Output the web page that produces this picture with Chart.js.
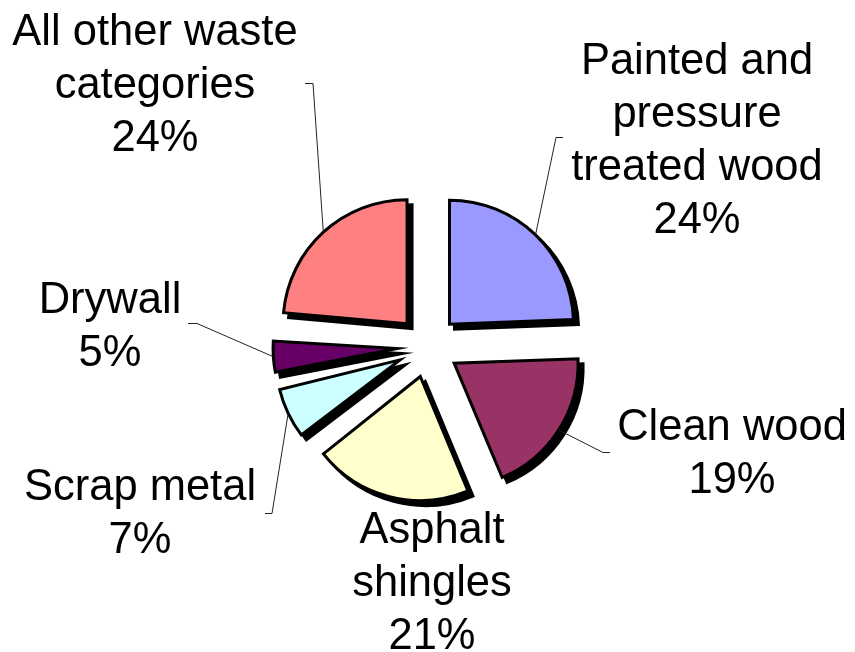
<!DOCTYPE html>
<html lang="en">
<head>
  <meta charset="UTF-8">
  <title>Waste composition</title>
  <script src="https://cdn.jsdelivr.net/npm/chart.js"></script>
  <style>
    html, body { margin: 0; padding: 0; background: #fff; }
    canvas { display: block; }
  </style>
</head>
<body>
  <canvas id="pie" width="855" height="652"></canvas>
  <script>
    const categories = ['Painted and pressure treated wood', 'Clean wood', 'Asphalt shingles', 'Scrap metal', 'Drywall', 'All other waste categories'];
    const shares = [24.4, 19.3, 20.6, 7.2, 4.9, 23.6];
    const colours = ['#9999ff', '#993366', '#ffffcc', '#ccffff', '#660066', '#ff8080'];

    // how each category name is wrapped on the picture
    const labelLines = [
      ['Painted and', 'pressure', 'treated wood'],
      ['Clean wood'],
      ['Asphalt', 'shingles'],
      ['Scrap metal'],
      ['Drywall'],
      ['All other waste', 'categories']
    ];
    // label placement: centre x, first baseline, leader elbow and tick length
    const labelPos = [
      { x: 697, y: 74, elbow: [556, 137], tick: 7 },
      { x: 732, y: 440, elbow: [603, 452], tick: 7 },
      { x: 432, y: 543, elbow: null },
      { x: 140, y: 500, elbow: [272, 513], tick: -7 },
      { x: 110, y: 313, elbow: [197, 323], tick: -9 },
      { x: 155, y: 45, elbow: [313, 83], tick: -8 }
    ];
    const lineH = 53;
    const total = shares.reduce((a, b) => a + b, 0);

    // chart.js grows small exploded slices; keep every slice at the same radius
    const sameRadius = {
      id: 'sameRadius',
      afterDatasetUpdate(chart, args) {
        args.meta.data.forEach(arc => {
          const push = ((arc.options && arc.options.offset) || 0) / 4;
          const fix = 1 - Math.sin(Math.min(Math.PI, arc.circumference));
          arc.outerRadius -= push * fix;
        });
      }
    };

    // black drop shadow under each slice, drawn with the arc element itself
    const dropShadow = {
      id: 'dropShadow',
      beforeDatasetsDraw(chart) {
        const ctx = chart.ctx;
        ctx.save();
        ctx.translate(5, 5);
        chart.getDatasetMeta(0).data.forEach(arc => {
          const copy = Object.assign(Object.create(Object.getPrototypeOf(arc)), arc);
          copy.options = Object.assign({}, arc.options, { backgroundColor: '#000', borderColor: '#000' });
          copy.draw(ctx);
        });
        ctx.restore();
      }
    };

    const outsideLabels = {
      id: 'outsideLabels',
      afterDraw(chart) {
        const ctx = chart.ctx;
        const meta = chart.getDatasetMeta(0);
        const r = meta.controller.outerRadius;
        ctx.save();
        ctx.strokeStyle = '#222';
        ctx.lineWidth = 1;
        meta.data.forEach((arc, i) => {
          const pos = labelPos[i];
          if (!pos.elbow) return;
          const mid = (arc.startAngle + arc.endAngle) / 2;
          const push = arc.options.offset / 4;
          const sx = arc.x + Math.cos(mid) * (push + r);
          const sy = arc.y + Math.sin(mid) * (push + r);
          ctx.beginPath();
          ctx.moveTo(sx, sy);
          ctx.lineTo(pos.elbow[0], pos.elbow[1] + 0.5);
          ctx.lineTo(pos.elbow[0] + pos.tick, pos.elbow[1] + 0.5);
          ctx.stroke();
        });
        ctx.font = '43.5px "Liberation Sans", Arial, sans-serif';
        ctx.fillStyle = '#000';
        ctx.textAlign = 'center';
        ctx.textBaseline = 'alphabetic';
        shares.forEach((v, i) => {
          const pos = labelPos[i];
          const lines = labelLines[i].concat(Math.round(v / total * 100) + '%');
          lines.forEach((t, k) => ctx.fillText(t, pos.x, pos.y + k * lineH));
        });
        ctx.restore();
      }
    };

    new Chart(document.getElementById('pie'), {
      type: 'pie',
      data: {
        labels: categories,
        datasets: [{
          data: shares,
          backgroundColor: colours,
          borderColor: '#000',
          borderWidth: 3,
          borderJoinStyle: 'miter',
          offset: 124
        }]
      },
      options: {
        responsive: false,
        animation: false,
        radius: 124,
        rotation: 0,
        layout: { padding: { left: 1, right: 0, top: 41, bottom: 0 } },
        plugins: {
          legend: { display: false },
          tooltip: { enabled: false }
        }
      },
      plugins: [sameRadius, dropShadow, outsideLabels]
    });
  </script>
</body>
</html>
